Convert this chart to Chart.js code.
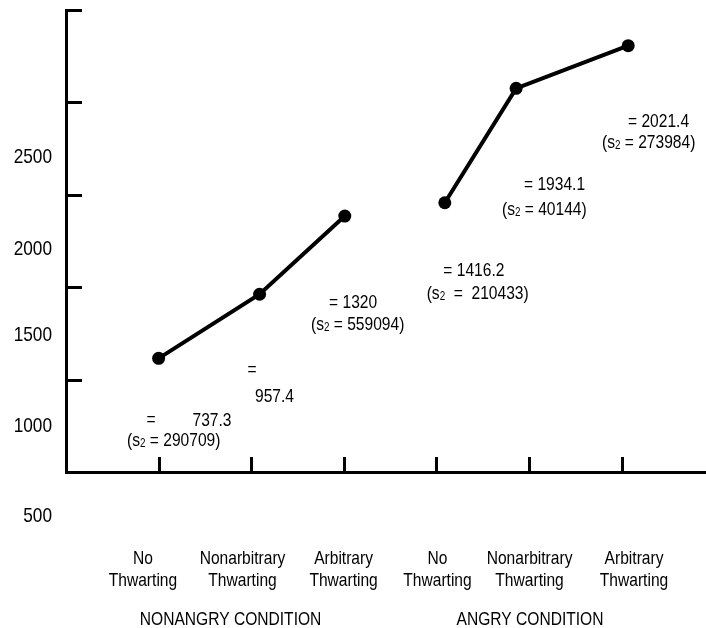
<!DOCTYPE html>
<html>
<head>
<meta charset="utf-8">
<title>Thwarting and anger</title>
<script src="https://cdn.jsdelivr.net/npm/chart.js@4.4.0/dist/chart.umd.min.js"></script>
<style>
  html, body { margin: 0; padding: 0; background: #fff; }
  #wrap { width: 706px; height: 628px; }
</style>
</head>
<body>
<div id="wrap"><canvas id="chart" width="706" height="628"></canvas></div>
<script>
/* ===== DATA ===== */
const conditions = ["NONANGRY CONDITION", "ANGRY CONDITION"];
const thwarting = [["No", "Thwarting"], ["Nonarbitrary", "Thwarting"], ["Arbitrary", "Thwarting"]];

// point positions: x in tick units, y on the 0-2500 axis
const nonangryX = [1.0, 2.09, 3.01];
const nonangryY = [615, 962, 1385];
const angryX = [4.09, 4.86, 6.07];
const angryY = [1457, 2076, 2307];

// printed means and variances
const means = ["737.3", "957.4", "1320", "1416.2", "1934.1", "2021.4"];
const variances = ["290709", null, "559094", "210433", "40144", "273984"];

const yTickLabels = ["2500", "2000", "1500", "1000", "500"];

/* ===== LAYOUT (text anchors, in axis units) ===== */
const yLabelAt = [1710, 1215, 747, 254, -233];
const yLabelX = -0.151;
const catX = [0.831, 1.906, 2.997, 4.011, 5.005, 6.133];
const catLineY = [-460, -579];
const groupX = [1.777, 5.01];
const groupY = -790;

const NARROW = 0.82;          // condensed face
const FONT = "'Liberation Sans', Arial, sans-serif";

function varLine(v, gap) {
  const g = gap || " ";
  return ["(s", { sub: "2" }, g + "=" + g + v + ")"];
}

const notes = [
  { text: "=", x: 0.918, y: 292, align: "center" },
  { text: means[0], x: 1.576, y: 287, align: "center" },
  { text: varLine(variances[0]), x: 0.659, y: 179 },
  { text: "=", x: 2.008, y: 563, align: "center" },
  { text: means[1], x: 2.041, y: 417 },
  { text: "= " + means[2], x: 2.84, y: 925 },
  { text: varLine(variances[2]), x: 2.645, y: 806 },
  { text: "= " + means[3], x: 4.074, y: 1098 },
  { text: varLine(variances[3], "  "), x: 3.894, y: 974 },
  { text: "= " + means[4], x: 4.945, y: 1564 },
  { text: varLine(variances[4]), x: 4.707, y: 1429 },
  { text: "= " + means[5], x: 6.068, y: 1905 },
  { text: varLine(variances[5]), x: 5.787, y: 1791 }
];

/* ===== TEXT HELPER ===== */
function drawText(ctx, text, x, y, align, size) {
  const parts = Array.isArray(text) ? text : [text];
  const subSize = Math.round(size * 0.65);
  ctx.save();
  ctx.translate(x, y + size * 0.35);
  ctx.scale(NARROW, 1);
  ctx.textBaseline = "alphabetic";
  ctx.textAlign = "left";
  ctx.fillStyle = "#000";
  let w = 0;
  parts.forEach(p => {
    ctx.font = (typeof p === "string" ? size : subSize) + "px " + FONT;
    w += ctx.measureText(typeof p === "string" ? p : p.sub).width;
  });
  let cx = align === "center" ? -w / 2 : align === "right" ? -w : 0;
  parts.forEach(p => {
    const t = typeof p === "string" ? p : p.sub;
    ctx.font = (typeof p === "string" ? size : subSize) + "px " + FONT;
    ctx.fillText(t, cx, typeof p === "string" ? 0 : 1);
    cx += ctx.measureText(t).width;
  });
  ctx.restore();
}

/* ===== PLUGIN: inward ticks + all labels ===== */
const decor = {
  id: "decor",
  afterDraw(chart) {
    const ctx = chart.ctx;
    const xs = chart.scales.x, ys = chart.scales.y;
    const area = chart.chartArea;

    ctx.save();
    ctx.strokeStyle = "#000";
    ctx.lineWidth = 3;
    ctx.beginPath();
    xs.ticks.forEach(t => {
      if (t.value <= 0) return;
      const px = Math.round(xs.getPixelForValue(t.value)) + 0.5;
      ctx.moveTo(px, area.bottom);
      ctx.lineTo(px, area.bottom - 15);
    });
    ys.ticks.forEach(t => {
      if (t.value <= 0) return;
      const py = Math.round(ys.getPixelForValue(t.value)) + 0.5;
      ctx.moveTo(area.left, py);
      ctx.lineTo(area.left + 16, py);
    });
    ctx.stroke();
    ctx.restore();

    yTickLabels.forEach((lab, i) => {
      drawText(ctx, lab, xs.getPixelForValue(yLabelX), ys.getPixelForValue(yLabelAt[i]), "right", 21);
    });

    const cats = thwarting.concat(thwarting);
    cats.forEach((lines, i) => {
      lines.forEach((line, j) => {
        drawText(ctx, line, xs.getPixelForValue(catX[i]), ys.getPixelForValue(catLineY[j]), "center", 19);
      });
    });

    conditions.forEach((c, i) => {
      drawText(ctx, c, xs.getPixelForValue(groupX[i]), ys.getPixelForValue(groupY), "center", 19);
    });

    notes.forEach(n => {
      drawText(ctx, n.text, xs.getPixelForValue(n.x), ys.getPixelForValue(n.y), n.align || "left", 19);
    });
  }
};

/* ===== CHART ===== */
function toPoints(xArr, yArr) {
  return xArr.map((x, i) => ({ x: x, y: yArr[i] }));
}

const lineStyle = {
  borderColor: "#000",
  backgroundColor: "#000",
  borderWidth: 4,
  pointRadius: 6.5,
  pointBackgroundColor: "#000",
  pointBorderWidth: 0,
  tension: 0,
  fill: false
};

new Chart(document.getElementById("chart"), {
  type: "line",
  data: {
    datasets: [
      Object.assign({ label: conditions[0], data: toPoints(nonangryX, nonangryY) }, lineStyle),
      Object.assign({ label: conditions[1], data: toPoints(angryX, angryY) }, lineStyle)
    ]
  },
  options: {
    responsive: false,
    animation: false,
    layout: { autoPadding: false, padding: { top: 10, right: 0, left: 0, bottom: 0 } },
    plugins: { legend: { display: false }, tooltip: { enabled: false } },
    scales: {
      x: {
        type: "linear",
        min: 0,
        max: 6.91,
        grid: { display: false },
        border: { display: true, color: "#000", width: 3 },
        ticks: { display: false, stepSize: 1, includeBounds: false },
        afterFit: s => { s.height = 156; }
      },
      y: {
        min: 0,
        max: 2500,
        grid: { display: false },
        border: { display: true, color: "#000", width: 3 },
        ticks: { display: false, stepSize: 500 },
        afterFit: s => { s.width = 66; }
      }
    }
  },
  plugins: [decor]
});
</script>
</body>
</html>
